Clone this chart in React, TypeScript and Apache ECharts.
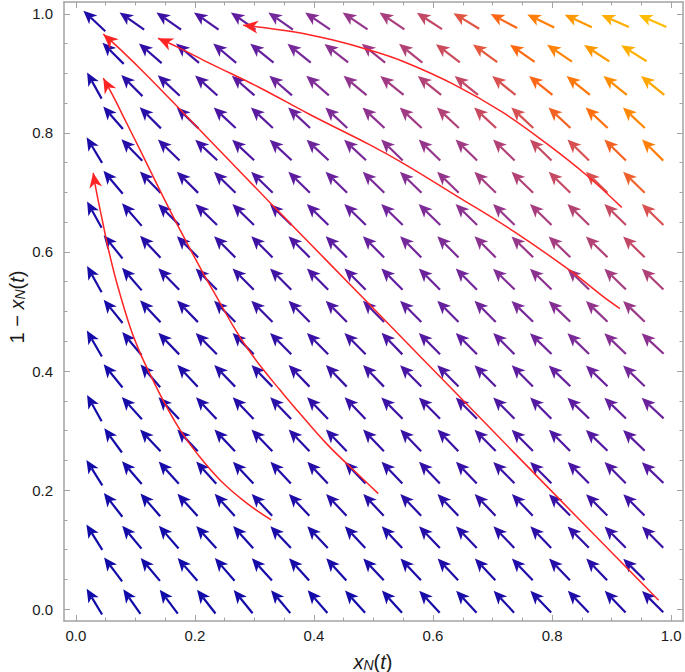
import React, { useEffect, useRef } from 'react';
import * as echarts from 'echarts';

// ---------- axis ticks ----------
const majorTicks = [0, 0.2, 0.4, 0.6, 0.8, 1.0];
const minorTicks = [0, 0.05, 0.1, 0.15, 0.2, 0.25, 0.3, 0.35, 0.4, 0.45, 0.5, 0.55, 0.6, 0.65, 0.7, 0.75, 0.8, 0.85, 0.9, 0.95, 1.0];

// ---------- arrow lattice (hexagonal) ----------
const rowY = [0.0125, 0.0667, 0.1209, 0.1751, 0.2293, 0.2835, 0.3377, 0.3919, 0.4461, 0.5003, 0.5545, 0.6087, 0.6629, 0.7171, 0.7713, 0.8255, 0.8797, 0.9339, 0.9881];
const evenX = [0.031, 0.094, 0.156, 0.219, 0.281, 0.344, 0.406, 0.469, 0.531, 0.594, 0.656, 0.719, 0.781, 0.844, 0.906, 0.969];
const oddX = [0.0625, 0.125, 0.1875, 0.25, 0.3125, 0.375, 0.4375, 0.5, 0.5625, 0.625, 0.6875, 0.75, 0.8125, 0.875, 0.9375];

// arrow direction (degrees, 90 = up, 180 = left), one row per lattice row
const angleRows = [
  [121, 125, 127, 128, 129, 130, 131, 132, 132, 133, 133, 133, 134, 134, 134, 135],
  [127, 130, 131, 131, 132, 132, 132, 133, 133, 133, 133, 134, 134, 134, 135],
  [122, 130, 131, 132, 132, 133, 133, 133, 133, 134, 134, 134, 134, 135, 135, 135],
  [128, 131, 132, 132, 133, 133, 133, 133, 134, 134, 134, 134, 135, 135, 135],
  [122, 131, 132, 132, 133, 133, 133, 134, 134, 134, 134, 135, 135, 135, 135, 136],
  [126, 133, 133, 133, 134, 134, 134, 134, 134, 134, 135, 135, 135, 136, 136],
  [119, 132, 133, 133, 134, 134, 134, 134, 135, 135, 135, 135, 135, 136, 136, 137],
  [129, 131, 133, 134, 134, 134, 134, 134, 135, 135, 135, 135, 136, 136, 136],
  [120, 130, 134, 135, 135, 135, 135, 135, 134, 135, 135, 135, 136, 136, 136, 137],
  [129, 133, 134, 135, 135, 135, 135, 135, 135, 135, 135, 136, 136, 136, 136],
  [119, 131, 134, 135, 135, 135, 135, 135, 135, 135, 135, 136, 136, 136, 136, 136],
  [129, 133, 135, 135, 135, 135, 135, 135, 135, 135, 135, 136, 136, 136, 136],
  [119, 131, 135, 136, 136, 136, 136, 136, 136, 136, 136, 136, 136, 136, 136, 136],
  [130, 134, 135, 136, 136, 136, 136, 136, 136, 136, 136, 136, 136, 136, 136],
  [121, 134, 136, 137, 137, 137, 137, 137, 136, 136, 136, 136, 136, 136, 136, 135],
  [131, 135, 136, 137, 137, 137, 137, 137, 137, 137, 137, 137, 137, 137, 137],
  [119, 135, 137, 138, 139, 139, 139, 140, 141, 141, 141, 141, 141, 141, 141, 141],
  [135, 139, 140, 140, 141, 141, 142, 141, 141, 143, 144, 145, 146, 147, 148],
  [137, 145, 145, 145, 145, 145, 146, 146, 146, 147, 149, 152, 154, 155, 156, 156],
];

// arrow magnitude level (0-100), drives the colour
const levelRows = [
  [0, 0, 1, 1, 2, 2, 3, 3, 4, 5, 6, 7, 8, 9, 10, 12],
  [1, 2, 2, 3, 4, 4, 5, 6, 7, 8, 9, 10, 11, 12, 14],
  [1, 2, 3, 4, 5, 6, 7, 8, 9, 11, 12, 14, 15, 17, 18, 20],
  [2, 3, 5, 6, 8, 9, 11, 12, 13, 14, 16, 17, 18, 20, 22],
  [2, 4, 5, 7, 8, 10, 12, 13, 15, 17, 18, 20, 22, 24, 26, 28],
  [3, 5, 7, 9, 11, 13, 15, 17, 19, 20, 22, 24, 26, 28, 30],
  [3, 5, 7, 9, 11, 14, 16, 18, 20, 22, 24, 26, 28, 31, 33, 35],
  [4, 7, 9, 12, 14, 17, 19, 22, 24, 26, 28, 31, 33, 35, 38],
  [4, 7, 9, 12, 14, 17, 20, 22, 25, 28, 31, 34, 37, 40, 43, 45],
  [5, 8, 12, 15, 19, 22, 26, 29, 32, 34, 37, 40, 43, 47, 50],
  [5, 8, 12, 15, 19, 22, 25, 29, 32, 35, 38, 42, 45, 49, 53, 57],
  [7, 11, 15, 19, 22, 26, 30, 34, 38, 41, 45, 49, 53, 58, 63],
  [6, 10, 14, 18, 22, 25, 29, 33, 37, 41, 45, 49, 54, 59, 64, 70],
  [8, 13, 17, 22, 26, 31, 35, 40, 43, 48, 53, 58, 64, 70, 76],
  [7, 12, 17, 21, 26, 31, 36, 40, 45, 48, 52, 58, 64, 70, 77, 85],
  [9, 14, 19, 25, 30, 35, 41, 46, 52, 58, 65, 69, 77, 81, 87],
  [8, 14, 19, 25, 30, 36, 41, 47, 52, 58, 63, 70, 79, 83, 88, 94],
  [10, 16, 22, 28, 33, 39, 45, 51, 58, 66, 73, 80, 86, 91, 96],
  [9, 15, 20, 26, 32, 38, 43, 49, 55, 63, 72, 79, 85, 91, 96, 99],
];

// ---------- red trajectories (start -> arrow tip) ----------
const trajA = [[0.328, 0.150], [0.287, 0.178], [0.242, 0.217], [0.203, 0.262], [0.175, 0.301], [0.147, 0.350], [0.124, 0.396], [0.108, 0.430], [0.091, 0.474], [0.069, 0.547], [0.055, 0.603], [0.044, 0.655], [0.035, 0.699], [0.029, 0.733]];
const trajB = [[0.508, 0.194], [0.466, 0.234], [0.421, 0.278], [0.376, 0.329], [0.343, 0.368], [0.315, 0.402], [0.287, 0.440], [0.264, 0.476], [0.239, 0.520], [0.214, 0.564], [0.175, 0.637], [0.141, 0.704], [0.108, 0.771], [0.080, 0.827], [0.063, 0.861], [0.046, 0.892]];
const trajC = [[0.979, 0.015], [0.816, 0.181], [0.657, 0.344], [0.500, 0.505], [0.332, 0.677], [0.186, 0.828], [0.119, 0.897], [0.075, 0.940], [0.046, 0.966]];
const trajD = [[0.914, 0.505], [0.886, 0.525], [0.830, 0.569], [0.735, 0.635], [0.640, 0.694], [0.550, 0.749], [0.494, 0.780], [0.393, 0.831], [0.309, 0.876], [0.225, 0.917], [0.169, 0.945], [0.138, 0.959]];
const trajE = [[0.917, 0.675], [0.858, 0.729], [0.791, 0.782], [0.718, 0.834], [0.634, 0.882], [0.550, 0.920], [0.494, 0.939], [0.432, 0.956], [0.365, 0.970], [0.281, 0.981]];
const trajectories = [trajA, trajB, trajC, trajD, trajE];

const gradient = ['#0e0ba8', '#200ca8', '#3a10a5', '#5a1aa0', '#7a2a98', '#9a3888', '#b84470', '#d85050', '#ff6a10', '#ff9400', '#ffc000'];

const FRAME = '#a3a3a3';
const RED = '#ff2424';
const FONT = '"Liberation Sans", Arial, sans-serif';

function App() {
  const ref = useRef<HTMLDivElement>(null);

  useEffect(() => {
    if (!ref.current) return;
    const chart = echarts.init(ref.current, undefined, { renderer: 'svg' });

    const arrows: number[][] = [];
    rowY.forEach((y, r) => {
      const xs = r % 2 === 0 ? evenX : oddX;
      xs.forEach((x, c) => arrows.push([x, y, angleRows[r][c], levelRows[r][c]]));
    });

    const heads = trajectories.map((t) => {
      const a = t[t.length - 1];
      const b = t[t.length - 2];
      return [a[0], a[1], b[0], b[1]];
    });

    const xBase = { type: 'value', min: -0.02, max: 1.02, splitLine: { show: false } };
    const yBase = { type: 'value', min: -0.02, max: 1.02, splitLine: { show: false } };
    const tickStyle = { color: FRAME, width: 1 };

    const majorAxis = (base: any, position: string, labels: boolean) => ({
      ...base,
      position,
      axisLine: { show: true, onZero: false, lineStyle: { color: FRAME, width: 1.5 } },
      axisTick: { show: true, inside: true, length: 6, customValues: majorTicks, lineStyle: tickStyle },
      axisLabel: labels
        ? {
            show: true,
            customValues: majorTicks,
            formatter: (v: number) => v.toFixed(1),
            color: '#1a1a1a',
            fontSize: 15,
            fontFamily: FONT,
            margin: position === 'bottom' ? 7 : 11,
          }
        : { show: false },
    });
    const minorAxis = (base: any, position: string) => ({
      ...base,
      position,
      axisLine: { show: false, onZero: false },
      axisTick: { show: true, inside: true, length: 3.5, customValues: minorTicks, lineStyle: tickStyle },
      axisLabel: { show: false },
    });

    const arrowHead = (tip: number[], ux: number, uy: number, hl: number, hw: number, notchK: number) => {
      const nx = -uy;
      const ny = ux;
      const base = [tip[0] - ux * hl, tip[1] - uy * hl];
      const notch = [tip[0] - ux * hl * notchK, tip[1] - uy * hl * notchK];
      return {
        notch,
        points: [tip, [base[0] + nx * hw, base[1] + ny * hw], notch, [base[0] - nx * hw, base[1] - ny * hw]],
      };
    };

    const titleRich = {
      i: { fontSize: 20, fontStyle: 'italic', fontFamily: FONT, fill: '#1a1a1a', lineHeight: 24, verticalAlign: 'bottom' },
      n: { fontSize: 20, fontFamily: FONT, fill: '#1a1a1a', lineHeight: 24, verticalAlign: 'bottom' },
      s: { fontSize: 14, fontStyle: 'italic', fontFamily: FONT, fill: '#1a1a1a', lineHeight: 24, verticalAlign: 'bottom', padding: [10, 0, 0, 0] },
    };

    const option: any = {
      animation: false,
      backgroundColor: '#ffffff',
      grid: { left: 64, right: 2, top: 2, bottom: 51, containLabel: false },
      xAxis: [
        majorAxis(xBase, 'bottom', true),
        minorAxis(xBase, 'bottom'),
        majorAxis(xBase, 'top', false),
        minorAxis(xBase, 'top'),
      ],
      yAxis: [
        majorAxis(yBase, 'left', true),
        minorAxis(yBase, 'left'),
        majorAxis(yBase, 'right', false),
        minorAxis(yBase, 'right'),
      ],
      visualMap: {
        type: 'continuous',
        show: false,
        dimension: 3,
        min: 0,
        max: 100,
        seriesIndex: 0,
        inRange: { color: gradient },
      },
      series: [
        {
          type: 'custom',
          name: 'field',
          xAxisIndex: 0,
          yAxisIndex: 0,
          silent: true,
          encode: { x: 0, y: 1 },
          data: arrows,
          renderItem: (params: any, api: any) => {
            const c = api.coord([api.value(0), api.value(1)]);
            const ang = (api.value(2) * Math.PI) / 180;
            const color = api.visual('color');
            const ux = Math.cos(ang);
            const uy = -Math.sin(ang);
            const L = 30;
            const tip = [c[0] + (ux * L) / 2, c[1] + (uy * L) / 2];
            const tail = [c[0] - (ux * L) / 2, c[1] - (uy * L) / 2];
            const h = arrowHead(tip, ux, uy, 13.5, 6, 0.74);
            return {
              type: 'group',
              children: [
                {
                  type: 'line',
                  shape: { x1: tail[0], y1: tail[1], x2: h.notch[0], y2: h.notch[1] },
                  style: { stroke: color, lineWidth: 2.2 },
                },
                { type: 'polygon', shape: { points: h.points }, style: { fill: color } },
              ],
            };
          },
        },
        ...trajectories.map((t) => ({
          type: 'line',
          xAxisIndex: 0,
          yAxisIndex: 0,
          data: t,
          smooth: 0.4,
          showSymbol: false,
          symbol: 'none',
          silent: true,
          lineStyle: { color: RED, width: 1.5 },
          z: 5,
        })),
        {
          type: 'custom',
          name: 'heads',
          xAxisIndex: 0,
          yAxisIndex: 0,
          silent: true,
          z: 6,
          encode: { x: 0, y: 1 },
          data: heads,
          renderItem: (params: any, api: any) => {
            const tip = api.coord([api.value(0), api.value(1)]);
            const prev = api.coord([api.value(2), api.value(3)]);
            let ux = tip[0] - prev[0];
            let uy = tip[1] - prev[1];
            const n = Math.sqrt(ux * ux + uy * uy) || 1;
            ux /= n;
            uy /= n;
            const h = arrowHead(tip, ux, uy, 15, 6.5, 0.7);
            return { type: 'polygon', shape: { points: h.points }, style: { fill: RED } };
          },
        },
      ],
      graphic: [
        {
          type: 'text',
          x: 373,
          y: 660,
          style: {
            text: '{i|x}{s|N}{n|(}{i|t}{n|)}',
            align: 'center',
            verticalAlign: 'middle',
            rich: titleRich,
          },
        },
        {
          type: 'text',
          x: 15,
          y: 307,
          rotation: Math.PI / 2,
          style: {
            text: '{n|1 \u2212 }{i|x}{s|N}{n|(}{i|t}{n|)}',
            align: 'center',
            verticalAlign: 'middle',
            rich: titleRich,
          },
        },
      ],
    };

    chart.setOption(option);
    return () => chart.dispose();
  }, []);

  return (
    <div
      ref={ref}
      style={{ position: 'fixed', left: 0, top: 0, width: 685, height: 672, background: '#fff' }}
    />
  );
}

export default App;
